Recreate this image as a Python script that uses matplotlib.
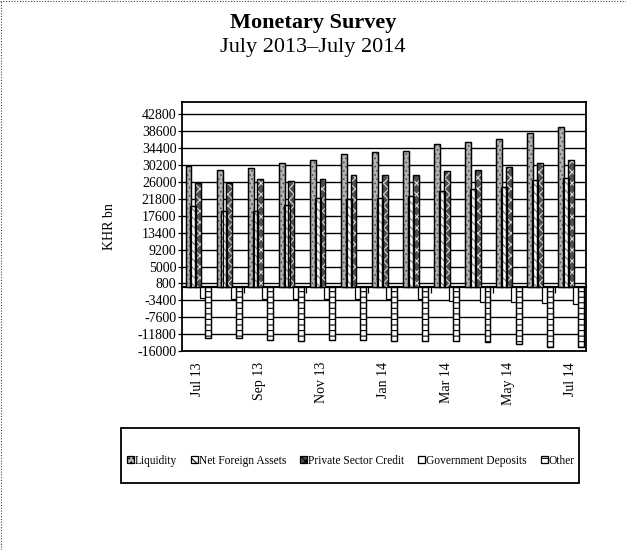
import matplotlib
matplotlib.use("Agg")
import matplotlib.pyplot as plt
import numpy as np
from matplotlib.lines import Line2D
from matplotlib.patches import Patch, Rectangle

plt.rcParams['font.family'] = ['Liberation Serif', 'DejaVu Serif']
plt.rcParams['hatch.linewidth'] = 0.8

months = ['Jul 13', 'Aug 13', 'Sep 13', 'Oct 13', 'Nov 13', 'Dec 13', 'Jan 14',
          'Feb 14', 'Mar 14', 'Apr 14', 'May 14', 'Jun 14', 'Jul 14']
liquidity = [30050, 29060, 29475, 30710, 31540, 32940, 33430, 33840, 35410, 35900, 36640, 38290, 39780]
net_foreign_assets = [20000, 18760, 18760, 20400, 22060, 21810, 22060, 22470, 23710, 24370, 24780, 26430, 27000]
private_sector_credit = [25770, 25770, 26760, 26350, 26760, 27830, 27830, 27830, 28650, 29060, 29800, 30710, 31370]
government_deposits = [-2900, -2950, -2950, -3000, -3000, -3050, -3100, -3150, -3500, -3900, -3900, -4150, -4400]
other = [-12650, -12650, -13150, -13500, -13250, -13370, -13540, -13400, -13430, -13760, -14250, -15080, -15080]
series_names = ['Liquidity', 'Net Foreign Assets', 'Private Sector Credit', 'Government Deposits', 'Other']
label_months = months[::2]

fig = plt.figure(figsize=(6.26, 5.5), dpi=100)
ax = fig.add_axes([0.2907, 0.3618, 0.6454, 0.4527])

x = np.arange(len(months))
step = 0.155
width = 0.19
styles = [
    dict(face='#b4b4b4', hatch='....', hcol='#555555'),
    dict(face='white', hatch='\\\\\\\\', hcol='#777777'),
    dict(face='#505050', hatch='xxx', hcol='#dddddd'),
    dict(face='white', hatch=None, hcol=None),
    dict(face='white', hatch='---', hcol='black'),
]
data = [liquidity, net_foreign_assets, private_sector_credit, government_deposits, other]
handles = []
for i, (vals, st, name) in enumerate(zip(data, styles, series_names)):
    pos = x + (i - 2) * step + 0.02
    ax.bar(pos, vals, width=width, color=st['face'], edgecolor='black',
           linewidth=0.9, zorder=3, label=name)
    if st['hatch']:
        ax.bar(pos, vals, width=width, color='none', edgecolor=st['hcol'],
               hatch=st['hatch'], linewidth=0, zorder=3.5)
        ax.bar(pos, vals, width=width, color='none', edgecolor='black',
               linewidth=0.9, zorder=3.6)
    handles.append(Patch(facecolor=st['face'], edgecolor='black',
                         hatch=st['hatch'] if st['hatch'] != '\\\\\\\\' else '\\\\',
                         linewidth=0.9))

ax.set_xlim(-0.5, len(months) - 0.5)
ax.set_ylim(-16000, 45900)
yt = np.arange(-16000, 42801, 4200)
ax.set_yticks(yt)
ax.set_yticklabels([str(v) for v in yt], fontsize=10)
ax.tick_params(axis='y', length=3, width=0.9, pad=1)
ax.grid(axis='y', color='black', linewidth=1.0, zorder=0)
ax.set_axisbelow(True)

ax.set_xticks(x[::2])
ax.set_xticklabels(label_months, rotation=90, fontsize=10)
ax.tick_params(axis='x', length=0, pad=8)

for s in ax.spines.values():
    s.set_linewidth(1.3)
    s.set_color('black')

# zero axis with boundary tick marks
sec = ax.secondary_xaxis(0, transform=ax.transData)
sec.spines['bottom'].set_linewidth(1.6)
sec.set_xticks(np.arange(1.5, len(months) - 0.5, 2))
sec.set_xticklabels([])
sec.tick_params(axis='x', length=4, width=0.9, direction='out')

ax.set_ylabel('KHR bn', fontsize=10, labelpad=15)

fig.text(0.5, 0.958, 'Monetary Survey', ha='center', va='center',
         fontsize=16, fontweight='bold')
fig.text(0.5, 0.914, 'July 2013\u2013July 2014', ha='center', va='center',
         fontsize=16)

leg = fig.legend(handles=handles, labels=series_names, loc='center',
                 bbox_to_anchor=(0.5607, 0.162), ncol=5, fontsize=8.3,
                 frameon=False, handlelength=0.6, handleheight=0.6,
                 handletextpad=0.1, columnspacing=1.2, borderpad=0.3)

# legend box
fig.add_artist(Rectangle((121 / 626, 1 - 483 / 550), 458 / 626, 55 / 550,
                         transform=fig.transFigure, facecolor='none',
                         edgecolor='black', linewidth=1.3))

# dotted outer border (top and left)
fig.add_artist(Line2D([0, 1], [0.998, 0.998], transform=fig.transFigure,
                      color='#444444', linestyle=(0, (1, 1.5)), linewidth=0.8))
fig.add_artist(Line2D([0.002, 0.002], [0, 1], transform=fig.transFigure,
                      color='#444444', linestyle=(0, (1, 1.5)), linewidth=0.8))

fig.savefig('out.png', dpi=100)
